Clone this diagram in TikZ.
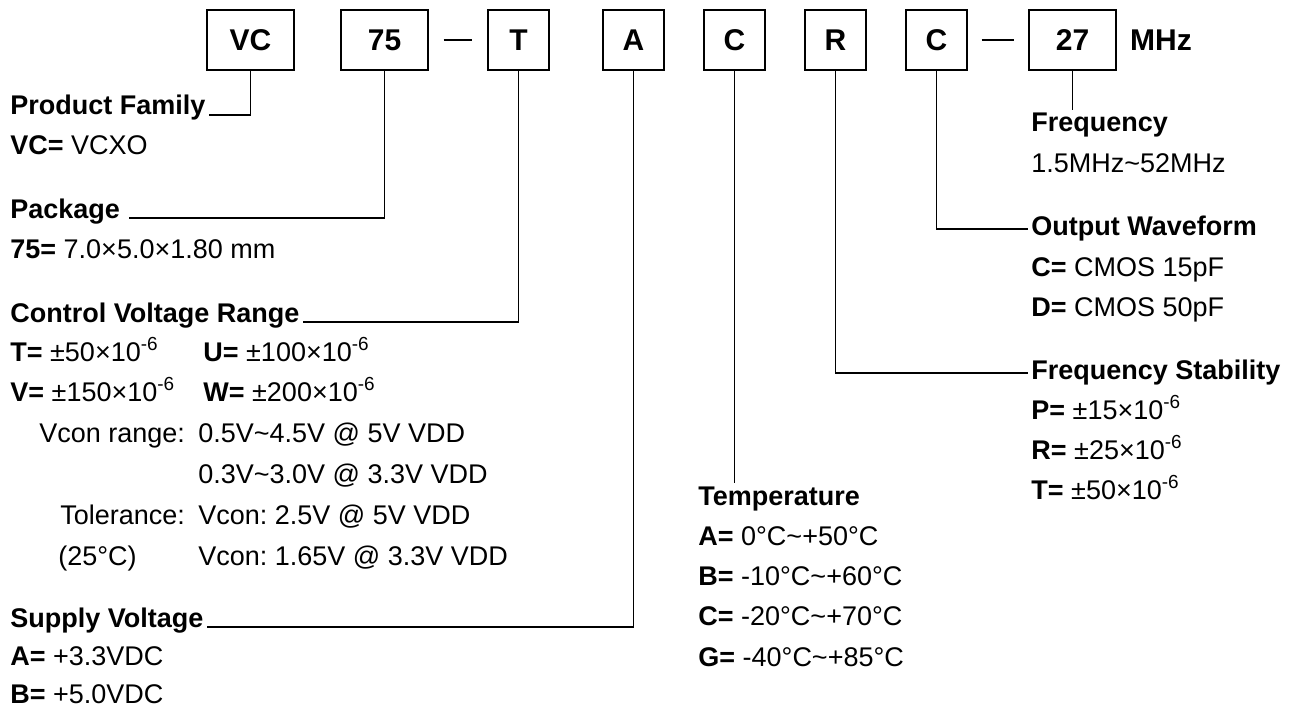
\documentclass[tikz,border=0pt]{standalone}
\usepackage{fontspec}
\setmainfont{Liberation Sans}
\frenchspacing
\usetikzlibrary{positioning}
\tikzset{
	box/.style={draw, line width=0.7pt, minimum height=30pt, inner sep=0pt, font=\bfseries\fontsize{15}{18}\selectfont},
	narrow/.style={box, minimum width=30.5pt},
	wide/.style={box, minimum width=43.5pt},
	txt/.style={anchor=base west, inner sep=1.5pt, font=\fontsize{13.5}{16}\selectfont},
	head/.style={txt, font=\bfseries\fontsize{13.5}{16}\selectfont},
	leader/.style={line width=0.7pt}
}

\begin{document}
\begin{tikzpicture}[x=0.5pt, y=-0.5pt]
	\useasboundingbox (0,0) rectangle (1293,711);
	%les cases du code
	\node[wide] (bfam) at (250.5,40) {VC};
	\node[wide] (bpkg) at (384.5,40) {75};
	\node[narrow] (bvolt) at (518.5,40) {T};
	\node[narrow] (bsupply) at (633.5,40) {A};
	\node[narrow] (btemp) at (734.5,40) {C};
	\node[narrow] (bstab) at (835.5,40) {R};
	\node[narrow] (bwave) at (936.5,40) {C};
	\node[wide] (bfreq) at (1072.5,40) {27};
	\node[right=6.5pt of bfreq, inner sep=0pt, font=\bfseries\fontsize{15}{18}\selectfont] (unit) {MHz};
	%tirets
	\draw[leader, shorten <=7.5pt, shorten >=7.5pt] (bpkg) -- (bvolt);
	\draw[leader, shorten <=7pt, shorten >=7pt] (bwave) -- (bfreq);
	%colonne de gauche
	\node[head] (lfam) at (7,115) {Product Family};
	\node[txt] (vfam) at (7,155) {\textbf{VC=} VCXO};
	\node[head] (lpkg) at (7,218) {Package};
	\node[txt] (vpkg) at (7,258) {\textbf{75=} 7.0×5.0×1.80 mm};
	\node[head] (lvolt) at (7,322) {Control Voltage Range};
	\node[txt] (vT) at (7,361) {\textbf{T=} ±50×10\textsuperscript{-6}};
	\node[txt] (vU) at (200,361) {\textbf{U=} ±100×10\textsuperscript{-6}};
	\node[txt] (vV) at (7,401) {\textbf{V=} ±150×10\textsuperscript{-6}};
	\node[txt] (vW) at (200,401) {\textbf{W=} ±200×10\textsuperscript{-6}};
	\node[txt] (rng) at (36,442) {Vcon range:};
	\node[txt] (rng1) at (195,442) {0.5V\textasciitilde4.5V @ 5V VDD};
	\node[txt] (rng2) at (195,483) {0.3V\textasciitilde3.0V @ 3.3V VDD};
	\node[txt] (tol) at (57,524) {Tolerance:};
	\node[txt] (tol1) at (195,524) {Vcon: 2.5V @ 5V VDD};
	\node[txt] (tolt) at (55,565) {(25°C)};
	\node[txt] (tol2) at (195,565) {Vcon: 1.65V @ 3.3V VDD};
	\node[head] (lsupply) at (7,627) {Supply Voltage};
	\node[txt] (vA) at (7,665) {\textbf{A=} +3.3VDC};
	\node[txt] (vB) at (7,703) {\textbf{B=} +5.0VDC};
	%temperature
	\node[head] (ltemp) at (695,505) {Temperature};
	\node[txt] (tA) at (695,545) {\textbf{A=} 0°C\textasciitilde+50°C};
	\node[txt] (tB) at (695,585) {\textbf{B=} -10°C\textasciitilde+60°C};
	\node[txt] (tC) at (695,625) {\textbf{C=} -20°C\textasciitilde+70°C};
	\node[txt] (tG) at (695,666) {\textbf{G=} -40°C\textasciitilde+85°C};
	%colonne de droite
	\node[head] (lfreq) at (1028,132) {Frequency};
	\node[txt] (vfreq) at (1028,173) {1.5MHz\textasciitilde52MHz};
	\node[head] (lwave) at (1028,235) {Output Waveform};
	\node[txt] (wC) at (1028,276) {\textbf{C=} CMOS 15pF};
	\node[txt] (wD) at (1028,316) {\textbf{D=} CMOS 50pF};
	\node[head] (lstab) at (1028,379) {Frequency Stability};
	\node[txt] (sP) at (1028,419) {\textbf{P=} ±15×10\textsuperscript{-6}};
	\node[txt] (sR) at (1028,459) {\textbf{R=} ±25×10\textsuperscript{-6}};
	\node[txt] (sT) at (1028,499) {\textbf{T=} ±50×10\textsuperscript{-6}};
	%les renvois
	\draw[leader] (bfam.south) |- (lfam.base east);
	\draw[leader] (bpkg.south) |- ([xshift=3pt]lpkg.base east);
	\draw[leader] (bvolt.south) |- (lvolt.base east);
	\draw[leader] (bsupply.south) |- (lsupply.base east);
	\draw[leader] (btemp.south) -- (btemp.south |- ltemp.north);
	\draw[leader] (bstab.south) |- ([yshift=3pt]lstab.base west);
	\draw[leader] (bwave.south) |- ([yshift=3pt]lwave.base west);
	\draw[leader] (bfreq.south) -- (bfreq.south |- lfreq.north);
\end{tikzpicture}
\end{document}
